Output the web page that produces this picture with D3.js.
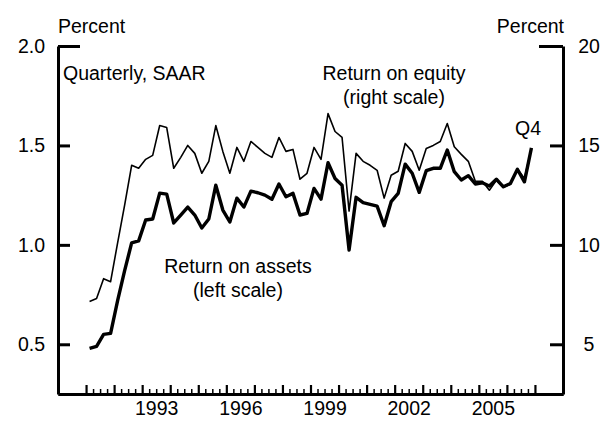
<!DOCTYPE html>
<meta charset="utf-8">
<title>Return on assets and equity</title>
<style>
body { margin: 0; background: #fff; }
text { font-family: Arial, "Liberation Sans", sans-serif; font-size: 19.5px; fill: #000; }
.axis path { stroke: #000; stroke-width: 3; }
.axis line { stroke: #000; }
.line { fill: none; stroke: #000; stroke-linejoin: round; }
</style>
<body>
<script src="https://d3js.org/d3.v7.min.js"></script>
<script>

// quarterly, first point is 1991 Q1
var startYear = 1991;

// return on assets, percent (left scale)
var roa = [
  0.48, 0.49, 0.55, 0.555,
  0.72, 0.87, 1.01, 1.02,
  1.125, 1.13, 1.26, 1.255,
  1.11, 1.15, 1.19, 1.15,
  1.085, 1.13, 1.30, 1.175,
  1.115, 1.235, 1.19, 1.27,
  1.262, 1.25, 1.229, 1.306,
  1.242, 1.259, 1.15, 1.158,
  1.284, 1.23, 1.413, 1.334,
  1.30, 0.974, 1.239, 1.212,
  1.204, 1.195, 1.096, 1.217,
  1.259, 1.406, 1.36, 1.264,
  1.373, 1.385, 1.385, 1.477,
  1.368, 1.326, 1.348, 1.306,
  1.312, 1.296, 1.33, 1.292,
  1.309, 1.38, 1.317, 1.488
];

// return on equity, percent (right scale)
var roe = [
  7.15, 7.3, 8.3, 8.15,
  10.1, 12.0, 14.0, 13.85,
  14.3, 14.5, 16.0, 15.9,
  13.85, 14.4, 15.0, 14.6,
  13.6, 14.2, 16.0, 14.7,
  13.6, 14.9, 14.2, 15.2,
  14.9, 14.6, 14.4, 15.4,
  14.7, 14.8, 13.3, 13.6,
  14.9, 14.3, 16.6, 15.7,
  15.4, 11.7, 14.6, 14.2,
  14.0, 13.75, 12.35, 13.5,
  13.7, 15.1, 14.7, 13.75,
  14.85, 15.0, 15.2, 16.1,
  14.93, 14.55, 14.2, 13.2,
  13.2, 12.75, 13.25, 12.9,
  13.05, 13.8, 13.35, 14.85
];

var leftTicks = [0.5, 1.0, 1.5, 2.0];
var rightTicks = [5, 10, 15, 20];
var yearLabels = [1993, 1996, 1999, 2002, 2005];

var W = 609, H = 425;
var mLeft = 58, mRight = 563, mTop = 46, mBottom = 394;

var svg = d3.select("body").append("svg")
    .attr("width", W)
    .attr("height", H);

var x = d3.scaleLinear().domain([1990, 2008]).range([mLeft, mRight]);
var yL = d3.scaleLinear().domain([0.25, 2.0]).range([mBottom, mTop]);
var yR = d3.scaleLinear().domain([2.5, 20]).range([mBottom, mTop]);

// date of each quarter, placed at the middle of the quarter
var dates = roa.map(function(d, i) { return startYear + (i + 0.5) / 4; });

// x axis: year ticks and quarter ticks pointing up
var years = d3.range(1991, 2008);
var quarters = d3.range(1991, 2007.01, 0.25).filter(function(d) { return d % 1 !== 0; });

svg.append("g")
    .attr("class", "axis")
    .attr("transform", "translate(0," + mBottom + ")")
    .call(d3.axisBottom(x).tickValues(quarters).tickSizeInner(-5).tickSizeOuter(0).tickFormat(""))
    .selectAll("line").style("stroke-width", 1.5);

svg.append("g")
    .attr("class", "axis")
    .attr("transform", "translate(0," + mBottom + ")")
    .call(d3.axisBottom(x).tickValues(years).tickSizeInner(-9).tickSizeOuter(0).tickFormat(""))
    .selectAll("line").style("stroke-width", 2.2);

var xl = svg.append("g")
    .attr("transform", "translate(0," + mBottom + ")")
    .call(d3.axisBottom(x).tickValues(yearLabels.map(function(d) { return d + 0.5; }))
      .tickSize(0).tickPadding(8).tickFormat(function(d) { return Math.floor(d); }));
xl.select(".domain").remove();
xl.selectAll("text").attr("font-size", null).attr("font-family", null)
    .attr("y", 21).attr("dy", 0);

// left axis
var la = svg.append("g")
    .attr("class", "axis")
    .attr("transform", "translate(" + mLeft + ",0)")
    .call(d3.axisLeft(yL).tickValues(leftTicks).tickSizeInner(-12).tickSizeOuter(0).tickPadding(13)
      .tickFormat(d3.format(".1f")));
la.selectAll("line").style("stroke-width", 3);
la.selectAll(".tick").filter(function(d) { return d === 2.0; }).select("line").attr("x2", 22);
la.selectAll("text").attr("font-size", null).attr("font-family", null);

// right axis
var ra = svg.append("g")
    .attr("class", "axis")
    .attr("transform", "translate(" + mRight + ",0)")
    .call(d3.axisRight(yR).tickValues(rightTicks).tickSizeInner(-13).tickSizeOuter(0).tickPadding(14));
ra.selectAll("line").style("stroke-width", 3);
ra.selectAll(".tick").filter(function(d) { return d === 20; }).select("line").attr("x2", -24);
ra.selectAll("text").attr("font-size", null).attr("font-family", null)
    .attr("text-anchor", "middle").attr("x", 26);

// lines
var lineL = d3.line()
    .x(function(d, i) { return x(dates[i]); })
    .y(function(d) { return yL(d); });
var lineR = d3.line()
    .x(function(d, i) { return x(dates[i]); })
    .y(function(d) { return yR(d); });

svg.append("path").datum(roe)
    .attr("class", "line")
    .attr("d", lineR)
    .style("stroke-width", 1.6);

svg.append("path").datum(roa)
    .attr("class", "line")
    .attr("d", lineL)
    .style("stroke-width", 3.4);

// texts
svg.append("text").attr("x", mLeft).attr("y", 33).text("Percent");
svg.append("text").attr("x", mRight + 1).attr("y", 33).attr("text-anchor", "end").text("Percent");
svg.append("text").attr("x", 63).attr("y", 80).text("Quarterly, SAAR");

svg.append("text").attr("x", 394).attr("y", 80).attr("text-anchor", "middle").text("Return on equity");
svg.append("text").attr("x", 394).attr("y", 104).attr("text-anchor", "middle").text("(right scale)");

svg.append("text").attr("x", 238).attr("y", 273).attr("text-anchor", "middle").text("Return on assets");
svg.append("text").attr("x", 238).attr("y", 297).attr("text-anchor", "middle").text("(left scale)");

svg.append("text").attr("x", 515).attr("y", 135).text("Q4");

</script>
</body>
